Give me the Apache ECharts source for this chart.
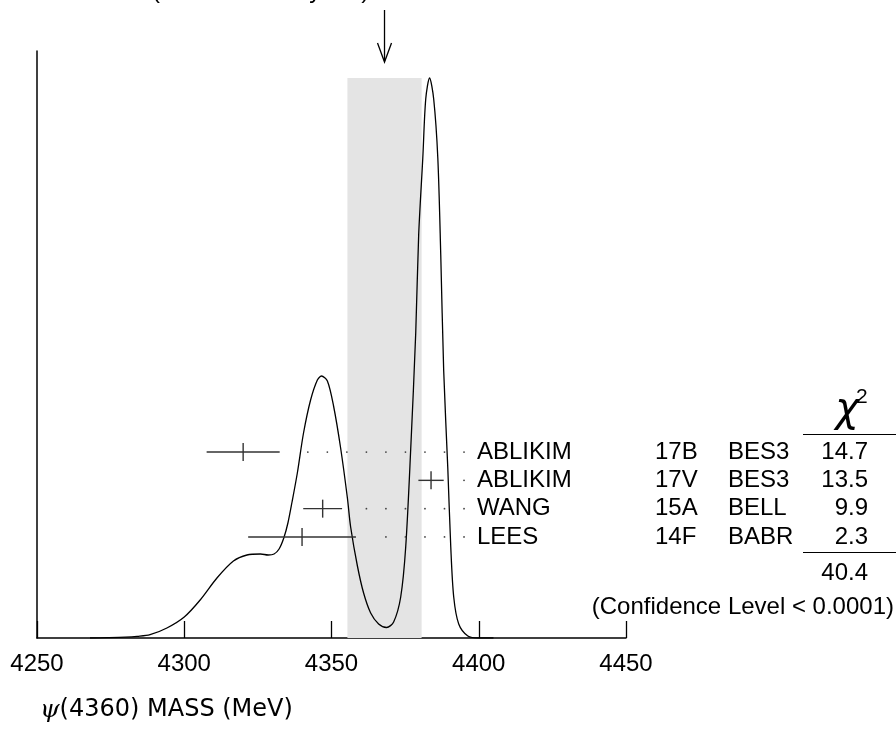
<!DOCTYPE html>
<html>
<head>
<meta charset="utf-8">
<script src="https://cdn.jsdelivr.net/npm/echarts@6/dist/echarts.min.js"></script>
<style>
  html, body { margin: 0; padding: 0; background: #fff; }
  #chart { width: 896px; height: 732px; }
</style>
</head>
<body>
<div id="chart"></div>
<script>
// ideogram curve (mass in MeV, relative height)
const curveX = [4268, 4274, 4280, 4284, 4288.4, 4294.1, 4300, 4305.4, 4311.1, 4316.7, 4321.3, 4325.9, 4328.5,
  4330.5, 4332.2, 4333.8, 4335.2, 4336.6, 4338.4, 4340.5, 4342.9, 4345.2, 4346.6, 4348.6, 4350.7, 4353.1, 4355.4, 4356.5,
  4358.8, 4360.9, 4363.3, 4366, 4368.7, 4371.1, 4373.5, 4375.2, 4376.9, 4378.6, 4379.6, 4381, 4382,
  4383.3, 4384.7, 4386.1, 4387.1, 4388.1, 4389.5, 4390.5, 4391.5, 4393.2, 4396.3, 4400, 4405]
const curveY = [0, 0.3, 0.8, 1.6, 3.3, 10, 21, 38, 60, 77, 83, 84, 83,
  84, 89, 100, 115, 136, 165, 205, 238, 258, 262, 257, 232, 190, 140, 111,
  72, 45, 25, 14, 10.5, 16, 41, 91, 189, 305, 403, 480, 539,
  560, 539, 480, 383, 267, 169, 91, 41, 14, 2, 0, 0]

// measurements
const names = ['ABLIKIM', 'ABLIKIM', 'WANG', 'LEES']
const docIds = ['17B', '17V', '15A', '14F']
const tecns = ['BES3', 'BES3', 'BELL', 'BABR']
const masses = [4320.0, 4383.8, 4347, 4340]
const errors = [12.4, 4.3, 6.6, 18.3]
const chi2 = ['14.7', '13.5', '9.9', '2.3']
const chi2Total = '40.4'
const confText = '(Confidence Level < 0.0001)'

// weighted average
const average = 4368
const avgError = 12.6
const titleText = '4368±13 (Error scaled by 3.7)'

const xTicks = [4250, 4300, 4350, 4400, 4450]

const FONT = '"Liberation Sans", Arial, Helvetica, sans-serif'
const curveMax = Math.max.apply(null, curveY)

const chart = echarts.init(document.getElementById('chart'))

const rows = masses.map(function (m, i) { return [m, errors[i], i] })

chart.setOption({
  animation: false,
  backgroundColor: '#fff',
  grid: { left: 37, right: 270, top: 51, bottom: 94 },
  xAxis: {
    type: 'value',
    min: xTicks[0],
    max: xTicks[xTicks.length - 1],
    interval: 50,
    splitLine: { show: false },
    axisLine: { onZero: false, lineStyle: { color: '#000', width: 1.5 } },
    axisTick: { inside: true, length: 17, lineStyle: { color: '#000', width: 1.3 } },
    axisLabel: {
      margin: 14, color: '#000', fontSize: 24, fontFamily: FONT,
      formatter: function (v) { return String(v) }
    }
  },
  yAxis: [{
    type: 'value',
    min: 0,
    max: 587,
    show: true,
    splitLine: { show: false },
    axisLine: { show: true, lineStyle: { color: '#000', width: 1.5 } },
    axisTick: { show: false },
    axisLabel: { show: false }
  }, {
    // row axis for the measurements
    type: 'value',
    inverse: true,
    min: -14.17,
    max: 6.57,
    show: false
  }],
  series: [{
    type: 'line',
    data: curveX.map(function (x, i) { return [x, curveY[i]] }),
    smooth: 0.3,
    showSymbol: false,
    lineStyle: { color: '#000', width: 1.3 },
    z: 3,
    markArea: {
      silent: true,
      itemStyle: { color: '#e4e4e4' },
      data: [[{ xAxis: average - avgError, yAxis: 0 }, { xAxis: average + avgError, yAxis: curveMax }]]
    }
  }, {
    type: 'custom',
    yAxisIndex: 1,
    data: rows,
    clip: false,
    z: 4,
    renderItem: function (params, api) {
      const m = api.value(0)
      const e = api.value(1)
      const r = api.value(2)
      const i = params.dataIndex
      const c = api.coord([m, r])
      const lo = api.coord([m - e, r])
      const hi = api.coord([m + e, r])
      const y = c[1]
      const children = [
        { type: 'line', shape: { x1: lo[0], y1: y, x2: hi[0], y2: y }, style: { stroke: '#333', lineWidth: 1.4 } },
        { type: 'line', shape: { x1: c[0], y1: y - 9, x2: c[0], y2: y + 9 }, style: { stroke: '#333', lineWidth: 1.4 } }
      ]
      // dotted leader from the label back to the error bar
      for (let d = 4395; d > m + e + 5; d -= 6.63) {
        const p = api.coord([d, r])
        children.push({ type: 'circle', shape: { cx: p[0], cy: y, r: 0.9 }, style: { fill: '#444' } })
      }
      const ts = { fontSize: 24, fontFamily: FONT, fill: '#000', verticalAlign: 'middle' }
      children.push({ type: 'text', style: Object.assign({ x: 477, y: y, text: names[i], align: 'left' }, ts) })
      children.push({ type: 'text', style: Object.assign({ x: 655, y: y, text: docIds[i], align: 'left' }, ts) })
      children.push({ type: 'text', style: Object.assign({ x: 728, y: y, text: tecns[i], align: 'left' }, ts) })
      children.push({ type: 'text', style: Object.assign({ x: 868, y: y, text: chi2[i], align: 'right' }, ts) })
      return { type: 'group', children: children }
    }
  }]
})

const ax = chart.convertToPixel({ xAxisIndex: 0 }, average)

chart.setOption({
  graphic: [
    { type: 'text', style: { x: 52, y: 3, text: titleText, fontSize: 24, fontFamily: FONT, fill: '#000', verticalAlign: 'bottom' } },
    { type: 'line', shape: { x1: ax, y1: 10, x2: ax, y2: 61 }, style: { stroke: '#000', lineWidth: 1.3 } },
    { type: 'polyline', shape: { points: [[ax - 7, 43], [ax, 62], [ax + 7, 43]] }, style: { stroke: '#000', lineWidth: 1.3, fill: null } },
    { type: 'text', style: { x: 847, y: 431, text: 'χ', fontSize: 40, fontFamily: '"DejaVu Sans", sans-serif', fontStyle: 'italic', fill: '#000', align: 'center', verticalAlign: 'bottom' } },
    { type: 'text', style: { x: 856, y: 408, text: '2', fontSize: 21, fontFamily: FONT, fill: '#000', align: 'left', verticalAlign: 'bottom' } },
    { type: 'line', shape: { x1: 803, y1: 434.5, x2: 896, y2: 434.5 }, style: { stroke: '#000', lineWidth: 1.2 } },
    { type: 'line', shape: { x1: 803, y1: 552.5, x2: 896, y2: 552.5 }, style: { stroke: '#000', lineWidth: 1.2 } },
    { type: 'text', style: { x: 868, y: 573, text: chi2Total, fontSize: 24, fontFamily: FONT, fill: '#000', align: 'right', verticalAlign: 'middle' } },
    { type: 'text', style: { x: 894, y: 607, text: confText, fontSize: 24, fontFamily: FONT, fill: '#000', align: 'right', verticalAlign: 'middle' } },
    {
      type: 'text',
      style: {
        x: 40, y: 710,
        text: '{psi|ψ}{t|(4360) MASS (MeV)}',
        verticalAlign: 'middle',
        rich: {
          psi: { fontSize: 25, fontFamily: '"DejaVu Serif", serif', fontStyle: 'italic', fill: '#000' },
          t: { fontSize: 24, fontFamily: '"DejaVu Sans", sans-serif', fill: '#000' }
        }
      }
    }
  ]
})
</script>
</body>
</html>
